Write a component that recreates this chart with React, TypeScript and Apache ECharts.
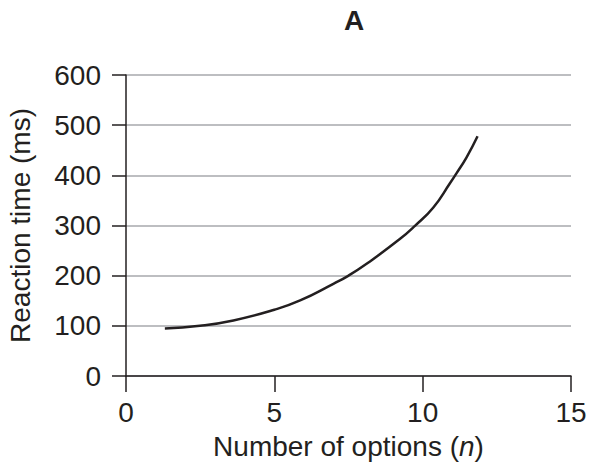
import React, { useEffect, useRef } from "react";
import * as echarts from "echarts";

const optionsN = [1.31, 2.49, 3.62, 5.0, 5.87, 6.99, 7.49, 8.11, 9.24, 9.74, 10.36, 10.92, 11.15, 11.48, 11.85];
const reactionMs = [94.9, 100.2, 110.8, 132, 150.6, 183.8, 199.7, 223.6, 273.4, 299.3, 336, 384.2, 405, 436, 478];
const xTicks = [0, 5, 10, 15];
const yTicks = [0, 100, 200, 300, 400, 500, 600];

const FONT = "'Liberation Sans', Arial, Helvetica, sans-serif";
const INK = "#231f20";
const FS = 28;

export default function App() {
  const ref = useRef<HTMLDivElement>(null);
  useEffect(() => {
    document.body.style.margin = "0";
    const chart = echarts.init(ref.current!, null, { renderer: "svg" });
    chart.setOption({
      animation: false,
      backgroundColor: "#ffffff",
      textStyle: { fontFamily: FONT },
      title: {
        text: "A",
        left: 349,
        top: 1,
        textAlign: "center",
        textStyle: { fontFamily: FONT, fontWeight: "bold", fontSize: FS, color: INK },
      },
      grid: { left: 126, right: 18, top: 75, bottom: 95, containLabel: false, outerBoundsMode: "none" },
      xAxis: {
        type: "value",
        min: xTicks[0],
        max: xTicks[xTicks.length - 1],
        interval: 5,
        name: "Number of options ({i|n})",
        nameLocation: "middle",
        nameGap: 56,
        nameTextStyle: {
          fontFamily: FONT,
          fontSize: FS,
          color: INK,
          rich: { i: { fontFamily: FONT, fontSize: FS, fontStyle: "italic", color: INK } },
        },
        axisLine: { show: true, lineStyle: { color: INK, width: 1.5 } },
        axisTick: { show: true, length: 16, lineStyle: { color: INK, width: 1.5 } },
        axisLabel: { fontFamily: FONT, fontSize: FS, color: INK, margin: 22 },
        splitLine: { show: false },
      },
      yAxis: {
        type: "value",
        min: yTicks[0],
        max: yTicks[yTicks.length - 1],
        interval: 100,
        name: "Reaction time (ms)",
        nameLocation: "middle",
        nameGap: 92,
        nameTextStyle: { fontFamily: FONT, fontSize: FS, color: INK },
        axisLine: { show: true, lineStyle: { color: INK, width: 1.5 } },
        axisTick: { show: true, length: 14, lineStyle: { color: INK, width: 1.5 } },
        axisLabel: { fontFamily: FONT, fontSize: FS, color: INK, margin: 25 },
        splitLine: { show: true, lineStyle: { color: "#a7a9ac", width: 1.5 } },
      },
      series: [
        {
          type: "line",
          data: optionsN.map((x, i) => [x, reactionMs[i]]),
          smooth: true,
          showSymbol: false,
          symbol: "none",
          lineStyle: { color: INK, width: 2.5 },
        },
      ],
    });
    return () => chart.dispose();
  }, []);
  return <div ref={ref} style={{ width: 589, height: 471 }} />;
}
